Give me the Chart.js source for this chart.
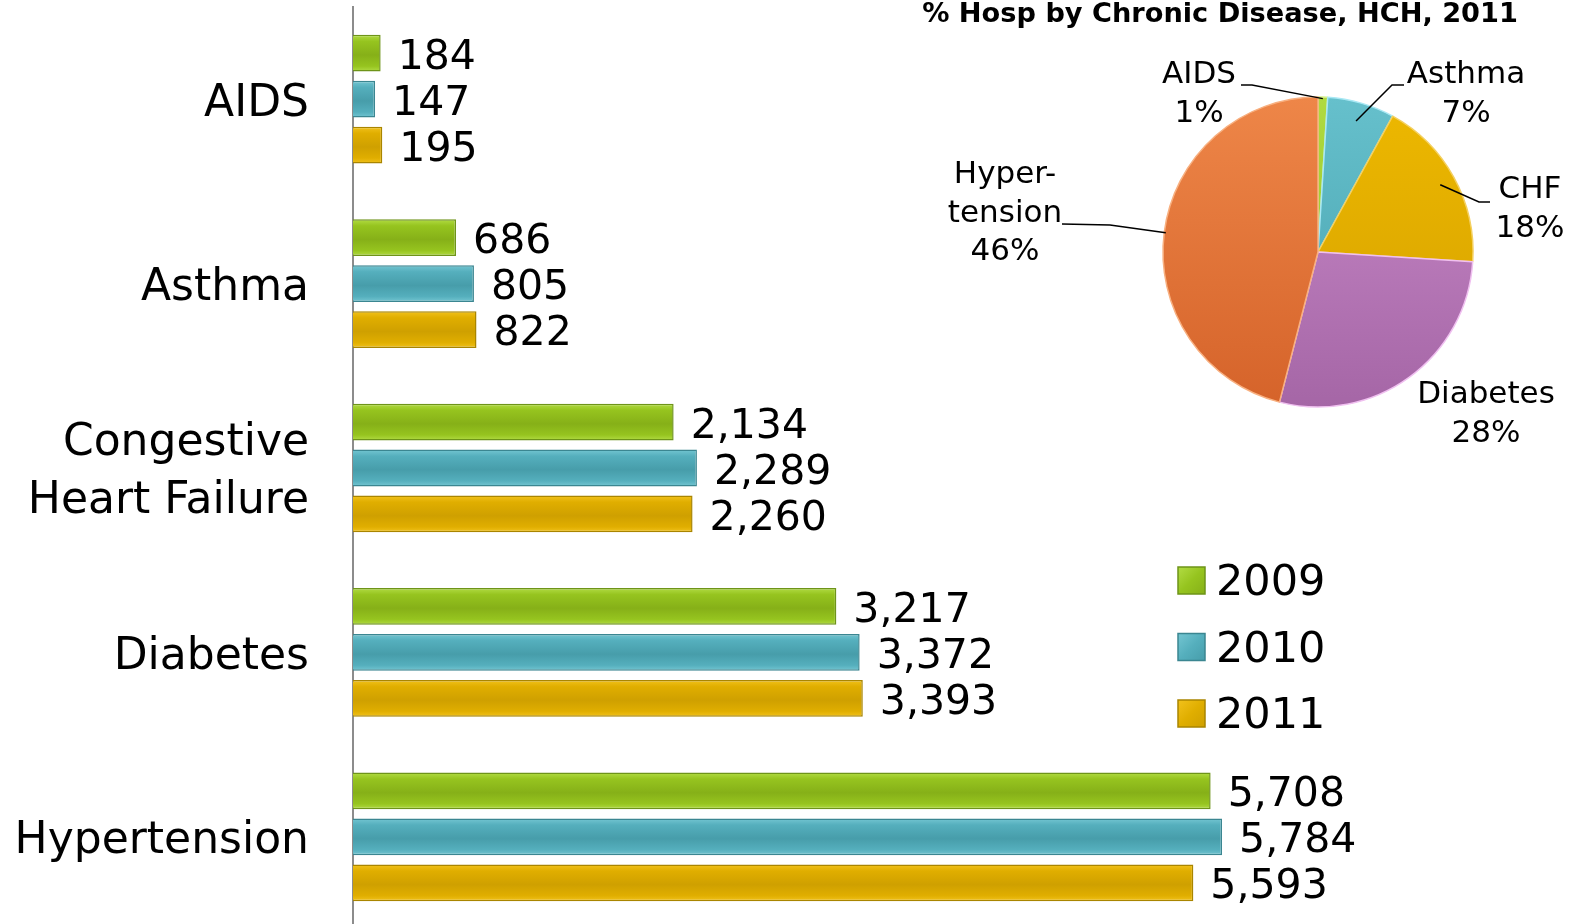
<!DOCTYPE html>
<html><head><meta charset="utf-8">
<script src="https://cdn.jsdelivr.net/npm/chart.js@4.4.1/dist/chart.umd.min.js"></script>
<style>
html,body{margin:0;padding:0;background:#fff;overflow:hidden;width:1576px;height:924px;}
#bar{position:absolute;left:0;top:0;}
#pie{position:absolute;left:900px;top:0;}
</style></head><body>
<canvas id="bar" width="1576" height="932"></canvas>
<canvas id="pie" width="676" height="470"></canvas>
<script>
// ---- data ----
const categories = ['AIDS', 'Asthma', ['Congestive', 'Heart Failure'], 'Diabetes', 'Hypertension'];
const seriesLabels = ['2009', '2010', '2011'];
const values2009 = [184, 686, 2134, 3217, 5708];
const values2010 = [147, 805, 2289, 3372, 5784];
const values2011 = [195, 822, 2260, 3393, 5593];
const pieTitle = '% Hosp by Chronic Disease, HCH, 2011';
const pieLabels = ['AIDS', 'Asthma', 'CHF', 'Diabetes', ['Hyper-', 'tension']];
const piePercents = [1, 7, 18, 28, 46];

// ---- styles ----
const FONT = '"DejaVu Sans", sans-serif';
const barFill = ['#96C41F', '#55AFBD', '#E0AE00'];
const barLight = ['#B2DC44', '#74C6D2', '#F2C21C'];
const barDark = ['#86B018', '#479DAA', '#CFA000'];
const barBorder = ['#6E9419', '#3B8691', '#A98500'];
const pieTop = ['#B0DA40', '#66C0CC', '#EDB800', '#CA8BCA', '#EE8648'];
const pieBottom = ['#8DBB20', '#45A0AC', '#D4A000', '#A566A6', '#D5632A'];
const pieBorder = ['#D8F090', '#A8E8F4', '#F4D060', '#F0C0F0', '#F8B080'];
const CAT_PCT = 0.748, BAR_PCT = 0.8;
// label layout relative to pie centre: text anchor, leader start, leader elbow, leader end radius factor
const pieLabelLayout = [
  {tx: -119, ty: -177, sx: -77, sy: -167, ex: -66, ey: -167, rf: 0.99, leader: true},
  {tx: 148, ty: -177, sx: 86, sy: -167, ex: 74, ey: -167, rf: 0.88, leader: true},
  {tx: 212, ty: -62, sx: 172, sy: -50, ex: 161, ey: -50, rf: 0.9, leader: true},
  {tx: 168, ty: 143, leader: false},
  {tx: -313, ty: -77, sx: -256, sy: -28, ex: -208, ey: -27, rf: 0.99, leader: true}
];

function barGrad(context) {
  const i = context.datasetIndex;
  const c = context.chart;
  const ys = c.scales && c.scales.y;
  if (!ys || context.dataIndex === undefined || !c.chartArea) return barFill[i];
  const band = (ys.bottom - ys.top) / ys.ticks.length;
  const slot = band * CAT_PCT / 3;
  const h = slot * BAR_PCT;
  const cy = ys.getPixelForValue(context.dataIndex) + (i - 1) * slot;
  const g = c.ctx.createLinearGradient(0, cy - h / 2, 0, cy + h / 2);
  g.addColorStop(0, barLight[i]);
  g.addColorStop(0.18, barFill[i]);
  g.addColorStop(0.55, barDark[i]);
  g.addColorStop(0.85, barFill[i]);
  g.addColorStop(1, barLight[i]);
  return g;
}

const valueLabelPlugin = {
  id: 'valueLabels',
  afterDatasetsDraw(chart) {
    const ctx = chart.ctx;
    ctx.save();
    ctx.font = '41px ' + FONT;
    ctx.fillStyle = '#000';
    ctx.textAlign = 'left';
    ctx.textBaseline = 'middle';
    chart.data.datasets.forEach((ds, i) => {
      chart.getDatasetMeta(i).data.forEach((bar, j) => {
        ctx.fillText(ds.data[j].toLocaleString('en-US'), bar.x + 17, bar.y + 5);
      });
    });
    ctx.restore();
  }
};

const legendPlugin = {
  id: 'customLegend',
  afterDraw(chart) {
    const ctx = chart.ctx;
    ctx.save();
    chart.data.datasets.forEach((ds, i) => {
      const y = 567 + i * 66.5;
      const g = ctx.createLinearGradient(1178, y, 1205, y + 27);
      g.addColorStop(0, barLight[i]);
      g.addColorStop(0.5, barFill[i]);
      g.addColorStop(1, barDark[i]);
      ctx.fillStyle = g;
      ctx.fillRect(1178, y, 27, 27);
      ctx.strokeStyle = barBorder[i];
      ctx.lineWidth = 1.5;
      ctx.strokeRect(1178, y, 27, 27);
      ctx.fillStyle = '#000';
      ctx.font = '43px ' + FONT;
      ctx.textAlign = 'left';
      ctx.textBaseline = 'middle';
      ctx.fillText(ds.label, 1216, y + 17);
    });
    ctx.restore();
  }
};

new Chart(document.getElementById('bar'), {
  type: 'bar',
  data: {
    labels: categories,
    datasets: [values2009, values2010, values2011].map((d, i) => ({
      label: seriesLabels[i],
      data: d,
      backgroundColor: barGrad,
      borderColor: barBorder[i],
      borderWidth: 1.5,
      borderSkipped: 'start',
      categoryPercentage: CAT_PCT,
      barPercentage: BAR_PCT
    }))
  },
  options: {
    indexAxis: 'y',
    responsive: false,
    animation: false,
    layout: {padding: {top: 7, bottom: 3, left: 0, right: 21}},
    plugins: {legend: {display: false}, tooltip: {enabled: false}},
    scales: {
      x: {display: false, min: 0, max: 8000},
      y: {
        grid: {display: false, drawTicks: false},
        border: {display: true, color: '#8C8C8C', width: 2},
        ticks: {color: '#000', font: {family: FONT, size: 44, lineHeight: 1.32}, padding: 44, labelOffset: 5},
        afterFit(scale) {
          scale.width = 353;
          scale.paddingTop = 0;
          scale.paddingBottom = 0;
        }
      }
    }
  },
  plugins: [valueLabelPlugin, legendPlugin]
});

const pieDecorPlugin = {
  id: 'pieDecor',
  afterDraw(chart) {
    const ctx = chart.ctx;
    ctx.save();
    // title
    let size = 30;
    ctx.font = 'bold ' + size + 'px ' + FONT;
    const w = ctx.measureText(pieTitle).width;
    size = size * 596 / w;
    ctx.font = 'bold ' + size.toFixed(2) + 'px ' + FONT;
    ctx.fillStyle = '#000';
    ctx.textAlign = 'center';
    ctx.textBaseline = 'middle';
    ctx.fillText(pieTitle, 320, 15);
    // labels
    const meta = chart.getDatasetMeta(0);
    ctx.font = '31px ' + FONT;
    meta.data.forEach((arc, i) => {
      const L = pieLabelLayout[i];
      const cx = arc.x, cy = arc.y;
      const lines = [].concat(chart.data.labels[i], piePercents[i] + '%');
      lines.forEach((t, k) => {
        ctx.fillText(t, cx + L.tx, cy + L.ty + k * 38.5);
      });
      if (L.leader) {
        const mid = (arc.startAngle + arc.endAngle) / 2;
        const r = arc.outerRadius * L.rf;
        ctx.beginPath();
        ctx.strokeStyle = '#000';
        ctx.lineWidth = 1.5;
        ctx.moveTo(cx + L.sx, cy + L.sy);
        ctx.lineTo(cx + L.ex, cy + L.ey);
        ctx.lineTo(cx + r * Math.cos(mid), cy + r * Math.sin(mid));
        ctx.stroke();
      }
    });
    ctx.restore();
  }
};

function pieGrad(context) {
  const i = context.dataIndex;
  const c = context.chart;
  const a = c.chartArea;
  if (!a) return pieTop[i];
  const cy = (a.top + a.bottom) / 2;
  const g = c.ctx.createLinearGradient(0, cy - 155, 0, cy + 155);
  g.addColorStop(0, pieTop[i]);
  g.addColorStop(1, pieBottom[i]);
  return g;
}

new Chart(document.getElementById('pie'), {
  type: 'pie',
  data: {
    labels: pieLabels,
    datasets: [{
      data: piePercents,
      backgroundColor: pieGrad,
      borderColor: pieBorder,
      borderWidth: 1.5
    }]
  },
  options: {
    responsive: false,
    animation: false,
    radius: 155,
    layout: {padding: {left: 200, right: 40, top: 60, bottom: 26}},
    plugins: {legend: {display: false}, tooltip: {enabled: false}}
  },
  plugins: [pieDecorPlugin]
});
</script>
</body></html>
